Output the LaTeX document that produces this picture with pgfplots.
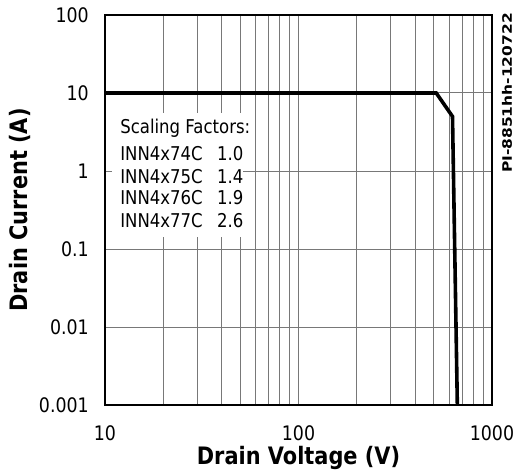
\documentclass[border=0pt]{standalone}
\usepackage{fontspec}
\setmainfont{DejaVu Sans}[FakeStretch=0.87]
\newfontfamily\pifont{DejaVu Sans}[FakeStretch=1.19]
\usepackage{pgfplots}
\pgfplotsset{compat=1.18}
\definecolor{gridgray}{RGB}{120,120,120}
\begin{document}
\begin{tikzpicture}
\path[use as bounding box] (-105pt,-71pt) rectangle (422pt,405pt);
\begin{axis}[
    xmode=log, ymode=log,
    scale only axis,
    clip mode=individual,
    width=387pt, height=390pt,
    xmin=10, xmax=1000,
    ymin=0.001, ymax=100,
    xtick={10,100,1000},
    xticklabels={10,100,1000},
    ytick={0.001,0.01,0.1,1,10,100},
    yticklabels={0.001,0.01,0.1,1,10,100},
    xmajorgrids=true, xminorgrids=true,
    ymajorgrids=true, yminorgrids=false,
    major grid style={gridgray, line width=1pt},
    minor grid style={gridgray, line width=1pt},
    major tick length=0pt, minor tick length=0pt,
    axis line style={line width=2.8pt},
    ticklabel style={font=\fontsize{20}{23}\selectfont, inner sep=0pt},
    xticklabel style={anchor=north, yshift=-20pt},
    yticklabel style={anchor=east, xshift=-16pt},
    xlabel={Drain Voltage (V)},
    ylabel={Drain Current (A)},
    label style={font=\bfseries\fontsize{24}{28}\selectfont, inner sep=0pt},
    xlabel style={at={(axis description cs:0.5,-0.136)}, anchor=center},
    ylabel style={at={(axis description cs:-0.219,0.5)}, anchor=center},
    ]

    \addplot[black, line width=3.6pt, line join=miter]
        coordinates {(10,10)(515,10)(625,5)(662,0.001)};

    \fill[white] (rel axis cs:0.018,0.431) rectangle (rel axis cs:0.357,0.749);
    \node[anchor=base west, inner sep=0pt, font=\fontsize{19}{22}\selectfont]
        at (rel axis cs:0.039,0.697) {Scaling Factors:};
    \node[anchor=base west, inner sep=0pt, font=\fontsize{19}{22}\selectfont]
        at (rel axis cs:0.039,0.628) {INN4x74C};
    \node[anchor=base west, inner sep=0pt, font=\fontsize{19}{22}\selectfont]
        at (rel axis cs:0.039,0.569) {INN4x75C};
    \node[anchor=base west, inner sep=0pt, font=\fontsize{19}{22}\selectfont]
        at (rel axis cs:0.039,0.513) {INN4x76C};
    \node[anchor=base west, inner sep=0pt, font=\fontsize{19}{22}\selectfont]
        at (rel axis cs:0.039,0.456) {INN4x77C};
    \node[anchor=base west, inner sep=0pt, font=\fontsize{19}{22}\selectfont]
        at (rel axis cs:0.289,0.628) {1.0};
    \node[anchor=base west, inner sep=0pt, font=\fontsize{19}{22}\selectfont]
        at (rel axis cs:0.289,0.569) {1.4};
    \node[anchor=base west, inner sep=0pt, font=\fontsize{19}{22}\selectfont]
        at (rel axis cs:0.289,0.513) {1.9};
    \node[anchor=base west, inner sep=0pt, font=\fontsize{19}{22}\selectfont]
        at (rel axis cs:0.289,0.456) {2.6};
    \node[rotate=90, anchor=east, inner sep=0pt, font=\pifont\bfseries\fontsize{13}{15}\selectfont]
        at (rel axis cs:1.039,1.005) {PI-8851hh-120722};
\end{axis}
\end{tikzpicture}
\end{document}
